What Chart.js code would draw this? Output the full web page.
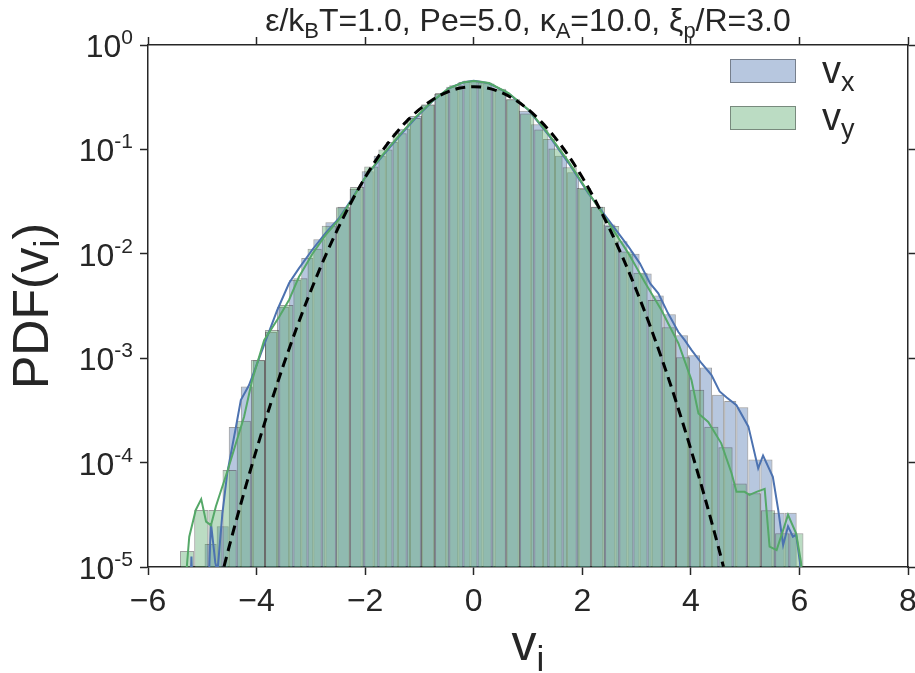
<!DOCTYPE html>
<html>
<head>
<meta charset="utf-8">
<script src="https://cdn.jsdelivr.net/npm/chart.js@4.4.1/dist/chart.umd.min.js"></script>
<style>
  html, body { margin: 0; padding: 0; background: #fff; }
</style>
</head>
<body>
<canvas id="myChart" width="915" height="673"></canvas>
<script>
// ---- data ----
// v_x histogram: 49 bins starting at -4.958, width 0.2226
const vxBinStart = -4.958;
const vxBinWidth = 0.2226;
const vxHist = [
  1.66e-5, 2.45e-5, 2.19e-4, 5.37e-4, 9.55e-4, 1.78e-3, 3.09e-3, 5.62e-3, 9.12e-3, 0.0138,
  0.0200, 0.0282, 0.0417, 0.0617, 0.0871, 0.1175, 0.158, 0.209, 0.269, 0.339,
  0.398, 0.442, 0.457, 0.427, 0.372, 0.302, 0.234, 0.174, 0.126, 0.0871,
  0.0603, 0.0417, 0.0282, 0.0191, 0.0132, 0.0100, 6.46e-3, 3.98e-3, 2.63e-3, 1.66e-3,
  1.07e-3, 8.13e-4, 4.47e-4, 3.89e-4, 3.39e-4, 1.07e-4, 1.07e-4, 3.3e-5, 3.3e-5
];
// v_y histogram: 44 bins starting at -5.41, width 0.261
const vyBinStart = -5.41;
const vyBinWidth = 0.261;
const vyHist = [
  1.42e-5, 3.52e-5, 3.52e-5, 8.5e-5, 2.51e-4, 9.6e-4, 1.86e-3, 3.24e-3, 5.82e-3, 0.0112,
  0.0186, 0.0279, 0.0437, 0.0684, 0.100, 0.143, 0.200, 0.269, 0.347, 0.412,
  0.457, 0.437, 0.380, 0.302, 0.221, 0.155, 0.102, 0.0676, 0.0427, 0.0282,
  0.0185, 0.0105, 6.6e-3, 3.6e-3, 1.98e-3, 1.02e-3, 5.0e-4, 2.2e-4, 1.4e-4, 6.3e-5,
  5.1e-5, 3.5e-5, 2.1e-5, 2.1e-5
];

// density curves
const vxLineX = [-5.23, -5.20, -5.17, -4.90, -4.84, -4.76, -4.72, -4.63, -4.54, -4.38,
  -4.29, -4.14, -4.01, -3.83, -3.62, -3.40, -3.22, -2.97, -2.73, -2.48,
  -2.24, -1.99, -1.69, -1.38, -1.07, -0.77, -0.46, -0.20, 0.00, 0.28,
  0.64, 1.01, 1.38, 1.75, 2.11, 2.48, 2.85, 3.06, 3.25, 3.40,
  3.58, 3.77, 3.89, 4.01, 4.20, 4.38, 4.53, 4.66, 4.84, 5.06,
  5.24, 5.33, 5.51, 5.61, 5.70, 5.79, 5.88, 5.94, 6.01, 6.04];
const vxLineY = [4e-6, 1.26e-5, 4e-6, 4e-6, 2.63e-5, 1.1e-5, 9e-6, 3.24e-5, 7.94e-5, 2.19e-4,
  3.98e-4, 5.5e-4, 8.3e-4, 1.48e-3, 2.88e-3, 5.25e-3, 7.24e-3, 0.0110, 0.0158, 0.0219,
  0.0339, 0.055, 0.0851, 0.132, 0.200, 0.286, 0.385, 0.437, 0.455, 0.430,
  0.344, 0.238, 0.137, 0.0736, 0.0380, 0.0211, 0.0117, 8.1e-3, 5.2e-3, 4.19e-3,
  2.69e-3, 1.78e-3, 1.48e-3, 1.20e-3, 8.9e-4, 6.9e-4, 4.8e-4, 4.2e-4, 3.55e-4, 2.21e-4,
  8.8e-5, 1.17e-4, 7.3e-5, 3.5e-5, 1.62e-5, 2.45e-5, 1.95e-5, 2.04e-5, 1.1e-5, 6e-6];

const vyLineX = [-5.32, -5.24, -5.12, -5.02, -4.93, -4.84, -4.75, -4.65, -4.53, -4.38,
  -4.23, -4.08, -3.86, -3.58, -3.40, -3.22, -2.97, -2.73, -2.48, -2.24,
  -1.99, -1.69, -1.38, -1.07, -0.77, -0.46, -0.20, 0.00, 0.28, 0.64,
  1.01, 1.38, 1.75, 2.11, 2.48, 2.85, 3.16, 3.46, 3.58, 3.74,
  3.77, 4.01, 4.14, 4.32, 4.56, 4.75, 4.84, 4.99, 5.08, 5.21,
  5.36, 5.45, 5.58, 5.79, 5.94, 6.03, 6.06];
const vyLineY = [6e-6, 1.95e-5, 3.52e-5, 4.47e-5, 2.72e-5, 2.51e-5, 3.8e-5, 5.5e-5, 8.5e-5, 1.53e-4,
  2.75e-4, 6.2e-4, 1.49e-3, 2.51e-3, 3.63e-3, 6.0e-3, 0.0100, 0.0151, 0.0214, 0.0331,
  0.055, 0.087, 0.135, 0.204, 0.288, 0.385, 0.437, 0.452, 0.432, 0.347,
  0.240, 0.140, 0.0759, 0.0389, 0.0200, 0.0101, 5.25e-3, 2.88e-3, 2.16e-3, 1.49e-3,
  1.39e-3, 6.2e-4, 2.95e-4, 2.45e-4, 1.53e-4, 7.9e-5, 5.25e-5, 5.25e-5, 4.9e-5, 5.25e-5,
  5.6e-5, 1.57e-5, 1.45e-5, 3.16e-5, 2.09e-5, 1.1e-5, 6e-6];

// dashed reference curve
const gaussX = [-4.6, -4.5, -4.25, -4.0, -3.75, -3.5, -3.25, -3.0, -2.75, -2.5,
  -2.25, -2.0, -1.75, -1.5, -1.25, -1.0, -0.75, -0.5, -0.25, 0.0,
  0.25, 0.5, 0.75, 1.0, 1.25, 1.5, 1.75, 2.0, 2.25, 2.5,
  2.75, 3.0, 3.25, 3.5, 3.75, 4.0, 4.25, 4.5, 4.6];
const gaussY = [1.01e-5, 1.60e-5, 4.78e-5, 1.34e-4, 3.53e-4, 8.73e-4, 2.03e-3, 4.43e-3, 9.09e-3, 0.0175,
  0.0317, 0.0540, 0.0863, 0.1295, 0.1826, 0.2420, 0.3011, 0.3521, 0.3867, 0.3989,
  0.3867, 0.3521, 0.3011, 0.2420, 0.1826, 0.1295, 0.0863, 0.0540, 0.0317, 0.0175,
  9.09e-3, 4.43e-3, 2.03e-3, 8.73e-4, 3.53e-4, 1.34e-4, 4.78e-5, 1.60e-5, 1.01e-5];

const xTicks = [-6, -4, -2, 0, 2, 4, 6, 8];
const yTicks = [1e-5, 1e-4, 1e-3, 1e-2, 1e-1, 1];
const yTickExp = ['-5', '-4', '-3', '-2', '-1', '0'];
const titleRuns = [['ε/k', 0], ['B', 1], ['T=1.0, Pe=5.0, κ', 0], ['A', 1], ['=10.0, ξ', 0], ['p', 1], ['/R=3.0', 0]];
const yLabelRuns = [['PDF(v', 0], ['i', 1], [')', 0]];
const xLabelRuns = [['v', 0], ['i', 1]];
const legendItems = [
  { runs: [['v', 0], ['x', 1]], color: 'rgba(76,114,176,0.4)' },
  { runs: [['v', 0], ['y', 1]], color: 'rgba(85,168,104,0.4)' }
];

const FONT = '"Liberation Sans", Arial, sans-serif';
const INK = '#262626';
const EDGE = 'rgba(40,40,40,0.45)';

const toXY = (xs, ys) => xs.map((x, i) => ({ x: x, y: ys[i] }));
const histPoints = (start, w, h) => h.map((v, i) => ({ x: start + w * (i + 0.5), y: v }));

function drawRuns(ctx, runs, x, y, size, align) {
  const subSize = Math.round(size * 0.7);
  let w = 0;
  runs.forEach(([t, sub]) => {
    ctx.font = (sub ? subSize : size) + 'px ' + FONT;
    w += ctx.measureText(t).width;
  });
  let cx = align === 'center' ? x - w / 2 : x;
  ctx.textAlign = 'left';
  ctx.textBaseline = 'alphabetic';
  runs.forEach(([t, sub]) => {
    ctx.font = (sub ? subSize : size) + 'px ' + FONT;
    ctx.fillText(t, cx, sub ? y + size * 0.22 : y);
    cx += ctx.measureText(t).width;
  });
}

const textPlugin = {
  id: 'texts',
  afterDraw(chart) {
    const ctx = chart.ctx;
    const area = chart.chartArea;
    const ys = chart.scales.y;
    ctx.save();
    ctx.fillStyle = INK;

    // title
    drawRuns(ctx, titleRuns, (area.left + area.right) / 2, 31, 32, 'center');

    // x label
    drawRuns(ctx, xLabelRuns, (area.left + area.right) / 2, 660, 50, 'center');

    // y label
    ctx.save();
    ctx.translate(48, (area.top + area.bottom) / 2);
    ctx.rotate(-Math.PI / 2);
    drawRuns(ctx, yLabelRuns, 0, 0, 50, 'center');
    ctx.restore();

    // y tick labels 10^n
    const right = area.left - 15;
    yTicks.forEach((v, i) => {
      const py = ys.getPixelForValue(v);
      ctx.font = '21px ' + FONT;
      const sw = ctx.measureText(yTickExp[i]).width;
      ctx.textAlign = 'left';
      ctx.textBaseline = 'alphabetic';
      ctx.fillText(yTickExp[i], right - sw, py - 1);
      ctx.font = '32px ' + FONT;
      ctx.textAlign = 'right';
      ctx.fillText('10', right - sw, py + 12);
    });

    // legend
    legendItems.forEach((it, i) => {
      const top = 59 + i * 47;
      ctx.fillStyle = it.color;
      ctx.fillRect(730, top, 66, 24);
      ctx.strokeStyle = EDGE;
      ctx.lineWidth = 1;
      ctx.strokeRect(730.5, top + 0.5, 65, 23);
      ctx.fillStyle = INK;
      drawRuns(ctx, it.runs, 822, top + 24, 38, 'left');
    });
    ctx.restore();
  }
};

const edgeScale = (pos) => ({
  display: true,
  position: pos,
  grid: { display: true, drawOnChartArea: false, drawTicks: true, tickLength: 8, tickColor: INK, tickWidth: 1.5, offset: false },
  border: { display: true, color: INK, width: 1.5 }
});

const barStyle = {
  borderColor: EDGE,
  borderWidth: { top: 1, left: 1, right: 1, bottom: 0 },
  borderSkipped: false,
  barPercentage: 1,
  categoryPercentage: 1,
  grouped: false,
  inflateAmount: 0
};

const ctx = document.getElementById('myChart').getContext('2d');
const myChart = new Chart(ctx, {
  type: 'bar',
  data: {
    datasets: [
      {
        type: 'line', label: 'gauss', data: toXY(gaussX, gaussY), xAxisID: 'x', yAxisID: 'y',
        borderColor: '#000', borderWidth: 3, borderDash: [10, 6], pointRadius: 0,
        cubicInterpolationMode: 'monotone', order: 0
      },
      {
        type: 'line', label: 'vy line', data: toXY(vyLineX, vyLineY), xAxisID: 'x', yAxisID: 'y',
        borderColor: '#55A868', borderWidth: 2, pointRadius: 0, order: 1
      },
      {
        type: 'line', label: 'vx line', data: toXY(vxLineX, vxLineY), xAxisID: 'x', yAxisID: 'y',
        borderColor: '#4C72B0', borderWidth: 2, pointRadius: 0, order: 2
      },
      Object.assign({
        label: 'vy', data: histPoints(vyBinStart, vyBinWidth, vyHist), xAxisID: 'xG', yAxisID: 'y',
        backgroundColor: 'rgba(85,168,104,0.4)', order: 3
      }, barStyle),
      Object.assign({
        label: 'vx', data: histPoints(vxBinStart, vxBinWidth, vxHist), xAxisID: 'xB', yAxisID: 'y',
        backgroundColor: 'rgba(76,114,176,0.4)', order: 4
      }, barStyle)
    ]
  },
  options: {
    responsive: false,
    animation: false,
    layout: { padding: 0 },
    plugins: { legend: { display: false }, tooltip: { enabled: false }, title: { display: false } },
    scales: {
      x: Object.assign(edgeScale('bottom'), {
        type: 'linear', min: -6, max: 8, offset: false,
        afterBuildTicks: (s) => { s.ticks = xTicks.map(v => ({ value: v })); },
        ticks: {
          padding: 8, color: INK, font: { size: 32, family: FONT },
          callback: (v) => (v < 0 ? '\u2212' + (-v) : String(v))
        },
        afterFit: (s) => { s.height = 106; s.paddingLeft = 0; s.paddingRight = 0; }
      }),
      xTop: Object.assign(edgeScale('top'), {
        type: 'linear', min: -6, max: 8, offset: false,
        afterBuildTicks: (s) => { s.ticks = xTicks.map(v => ({ value: v })); },
        ticks: { display: false },
        afterFit: (s) => { s.height = 45; s.paddingLeft = 0; s.paddingRight = 0; }
      }),
      xB: { type: 'linear', display: false, min: -6, max: 8, offset: false },
      xG: { type: 'linear', display: false, min: -6, max: 8, offset: false },
      y: Object.assign(edgeScale('left'), {
        type: 'logarithmic', min: 1e-5, max: 1,
        afterBuildTicks: (s) => { s.ticks = yTicks.map(v => ({ value: v })); },
        ticks: { display: false },
        afterFit: (s) => { s.width = 148; }
      }),
      yR: Object.assign(edgeScale('right'), {
        type: 'logarithmic', min: 1e-5, max: 1,
        afterBuildTicks: (s) => { s.ticks = yTicks.map(v => ({ value: v })); },
        ticks: { display: false },
        afterFit: (s) => { s.width = 7; }
      })
    }
  },
  plugins: [textPlugin]
});
</script>
</body>
</html>
